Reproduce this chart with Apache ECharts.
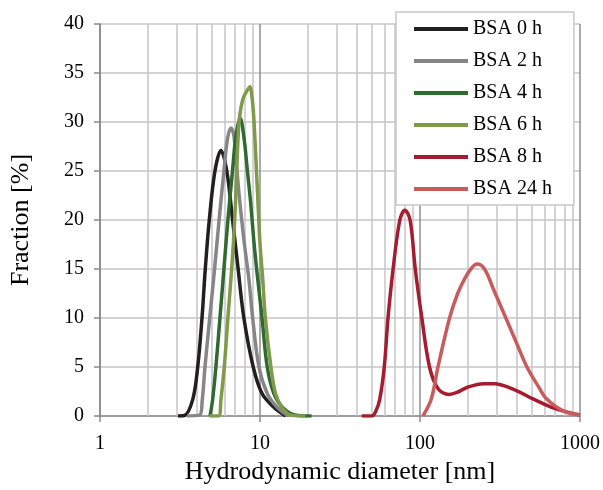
<!DOCTYPE html>
<html>
<head>
<meta charset="utf-8">
<script src="https://cdn.jsdelivr.net/npm/echarts@6/dist/echarts.min.js"></script>
<style>
  html, body { margin: 0; padding: 0; background: #fff; }
  #chart { width: 603px; height: 490px; }
</style>
</head>
<body>
<div id="chart"></div>
<script>
// series names shown in the legend
var names = ['BSA 0 h', 'BSA 2 h', 'BSA 4 h', 'BSA 6 h', 'BSA 8 h', 'BSA 24 h']
var colors = ['#231f20', '#868686', '#2f6a31', '#7f9a48', '#a51c30', '#c85b5b']

// [diameter nm, fraction %]
var bsa0h = [[3.07, 0], [3.37, 0.05], [3.8, 1.7], [4.08, 5], [4.34, 10], [4.55, 15], [4.82, 20], [5.23, 25],
  [5.7, 27.1], [6.2, 25], [6.74, 20], [7.3, 15], [7.93, 10], [9.07, 5], [10.3, 2.3], [12.2, 0.9], [14.5, 0]]
var bsa2h = [[3.5, 0], [4.2, 0.1], [4.35, 1.5], [4.53, 5], [4.85, 10], [5.2, 15], [5.55, 20], [5.95, 25],
  [6.25, 28.2], [6.58, 29.4], [6.85, 28.7], [7.06, 26.5], [7.41, 22.5], [7.93, 18], [8.53, 13.9], [9.0, 10],
  [9.85, 5], [11.1, 2.3], [12.8, 0.9], [15.1, 0]]
var bsa4h = [[4.87, 0], [5.06, 1.7], [5.3, 5], [5.62, 10], [5.95, 15], [6.3, 20], [6.74, 25.1],
  [7.06, 28.5], [7.51, 30.4], [7.93, 28.5], [8.33, 25.1], [8.75, 21.7], [9.18, 17.6], [9.6, 14.5], [10.3, 10],
  [11.1, 5], [12.2, 2.3], [13.8, 0.9], [16.6, 0.1], [21, 0]]
var bsa6h = [[4.82, 0], [5.5, 0], [5.7, 1.7], [5.98, 5], [6.3, 10], [6.65, 15], [6.95, 20],
  [7.15, 25], [7.3, 28.5], [7.45, 30.5], [7.84, 32.4], [8.3, 33.2], [8.67, 33.6], [8.9, 32.6], [9.0, 31.9],
  [9.18, 30], [9.5, 25.1], [9.72, 21.7], [10.0, 17.6], [10.4, 14], [10.8, 10], [11.7, 5], [12.5, 2.3],
  [13.7, 0.9], [15.5, 0.1], [19.2, 0]]
var bsa8h = [[43.2, 0], [49.9, 0], [53, 0.5], [56, 1.7], [59.8, 5], [63.1, 10], [67.9, 15], [74.8, 20],
  [80.4, 21], [86.7, 20], [93.4, 15], [102.7, 10], [114.7, 5], [129.5, 2.8], [152, 2.2], [170, 2.4],
  [200, 2.96], [250, 3.3], [291, 3.3], [400, 2.6], [500, 1.8], [700, 0.75], [1000, 0.1]]
var bsa24h = [[104.4, 0], [117.5, 1.7], [129.5, 5], [153, 10], [172, 12.5], [190, 14.0], [208, 15], [227, 15.5],
  [253, 15], [290, 12.8], [344, 10], [400, 7.5], [466, 5], [550, 3.0], [622, 1.7], [790, 0.5], [1000, 0.1]]

var allData = [bsa0h, bsa2h, bsa4h, bsa6h, bsa8h, bsa24h]

// minor log grid lines (2..9 per decade)
var minorLines = [2, 3, 4, 5, 6, 7, 8, 9, 20, 30, 40, 50, 60, 70, 80, 90, 200, 300, 400, 500, 600, 700, 800, 900]

var font = 'Liberation Serif, Times New Roman, serif'

var chart = echarts.init(document.getElementById('chart'))

var series = names.map(function (name, i) {
  return {
    name: name,
    type: 'line',
    data: allData[i],
    smooth: 0.35,
    showSymbol: false,
    symbol: 'none',
    lineStyle: { color: colors[i], width: 3.5 },
    itemStyle: { color: colors[i] },
    z: 3
  }
})

// helper series that only carries the minor vertical grid lines
series.unshift({
  name: 'grid',
  type: 'line',
  data: [[1, 0]],
  showSymbol: false,
  symbol: 'none',
  lineStyle: { opacity: 0 },
  z: 1,
  markLine: {
    silent: true,
    z: 1,
    symbol: ['none', 'none'],
    label: { show: false },
    lineStyle: { color: '#c6c6ca', width: 1.5, type: 'solid' },
    data: minorLines.map(function (v) { return { xAxis: v } }),
    animation: false
  }
})

chart.setOption({
  animation: false,
  grid: { left: 100, right: 20, top: 24, bottom: 74 },
  legend: {
    data: names,
    orient: 'vertical',
    left: 396,
    top: 12,
    z: 10,
    padding: [7, 22, 6, 18],
    itemGap: 12,
    icon: 'rect',
    itemWidth: 54,
    itemHeight: 4,
    backgroundColor: '#fff',
    borderColor: '#c8c8c8',
    borderWidth: 1.5,
    textStyle: { fontFamily: font, fontSize: 20, color: '#000', lineHeight: 20 }
  },
  xAxis: {
    type: 'log',
    logBase: 10,
    min: 1,
    max: 1000,
    name: 'Hydrodynamic diameter [nm]',
    nameLocation: 'middle',
    nameGap: 42,
    nameTextStyle: { fontFamily: font, fontSize: 26, color: '#000' },
    axisLine: { lineStyle: { color: '#8a8a8a', width: 1.5 } },
    axisTick: { show: true, length: 6, lineStyle: { color: '#8a8a8a', width: 1.5 } },
    axisLabel: {
      fontFamily: font, fontSize: 20, color: '#000', margin: 18,
      formatter: function (v) { return String(Math.round(v)) }
    },
    splitLine: { show: true, lineStyle: { color: '#8e8e8e', width: 1.5 } }
  },
  yAxis: {
    type: 'value',
    min: 0,
    max: 40,
    interval: 5,
    name: 'Fraction [%]',
    nameLocation: 'middle',
    nameGap: 66,
    nameTextStyle: { fontFamily: font, fontSize: 26, color: '#000' },
    axisLine: { show: true, lineStyle: { color: '#8a8a8a', width: 1.5 } },
    axisTick: { show: true, length: 6, lineStyle: { color: '#8a8a8a', width: 1.5 } },
    axisLabel: { fontFamily: font, fontSize: 20, color: '#000', margin: 16 },
    splitLine: { show: true, lineStyle: { color: '#c6c6ca', width: 1.5 } }
  },
  series: series
})
</script>
</body>
</html>
